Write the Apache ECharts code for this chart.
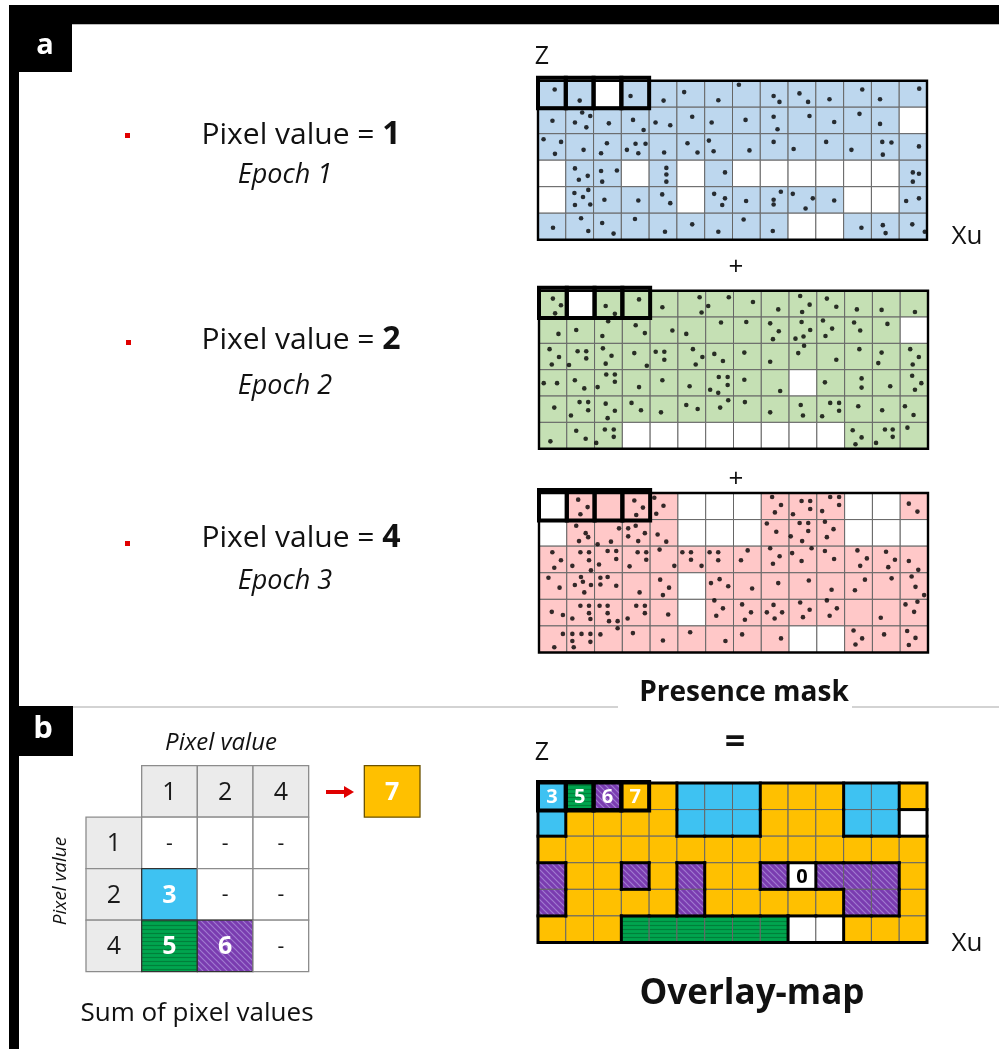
<!DOCTYPE html>
<html><head><meta charset="utf-8">
<script src="https://cdn.jsdelivr.net/npm/echarts@6/dist/echarts.min.js"></script>
<style>html,body{margin:0;padding:0;background:#fff}#c{width:999px;height:1049px}</style>
</head><body><div id="c"></div>
<script>
// ---------------- DATA ----------------
const NCOLS = 14, NROWS = 6;
const epochLabels = ['Epoch 1', 'Epoch 2', 'Epoch 3'];
const pixelValues = ['1', '2', '4'];

const blueMask = [
  [1,1,0,1,1,1,1,1,1,1,1,1,1,1],
  [1,1,1,1,1,1,1,1,1,1,1,1,1,0],
  [1,1,1,1,1,1,1,1,1,1,1,1,1,1],
  [0,1,1,0,1,0,1,0,0,0,0,0,0,1],
  [0,1,1,1,1,0,1,1,1,1,1,0,0,1],
  [1,1,1,1,1,1,1,1,1,0,0,1,1,1]
];
const greenMask = [
  [1,0,1,1,1,1,1,1,1,1,1,1,1,1],
  [1,1,1,1,1,1,1,1,1,1,1,1,1,0],
  [1,1,1,1,1,1,1,1,1,1,1,1,1,1],
  [1,1,1,1,1,1,1,1,1,0,1,1,1,1],
  [1,1,1,1,1,1,1,1,1,1,1,1,1,1],
  [1,1,1,0,0,0,0,0,0,0,0,1,1,1]
];
const pinkMask = [
  [0,1,1,1,1,0,0,0,1,1,1,0,0,1],
  [0,1,1,1,1,0,0,0,1,1,1,0,0,0],
  [1,1,1,1,1,1,1,1,1,1,1,1,1,1],
  [1,1,1,1,1,0,1,1,1,1,1,1,1,1],
  [1,1,1,1,1,0,1,1,1,1,1,1,1,1],
  [1,1,1,1,1,1,1,1,1,0,0,1,1,1]
];
const overlayValues = [
  [3,5,6,7,7,3,3,3,7,7,7,3,3,7],
  [3,7,7,7,7,3,3,3,7,7,7,3,3,0],
  [7,7,7,7,7,7,7,7,7,7,7,7,7,7],
  [6,7,7,6,7,6,7,7,6,0,6,6,6,7],
  [6,7,7,7,7,6,7,7,7,7,7,6,6,7],
  [7,7,7,5,5,5,5,5,5,0,0,7,7,7]
];
const overlayLabels = [[0,0,'3'],[1,0,'5'],[2,0,'6'],[3,0,'7'],[9,3,'0']];
const highlightCols = [0,1,2,3];

// dots: [column position, row position] in grid cell units
const blueDots = [
[0.60,0.33],[1.50,0.75],[3.33,0.58],[4.52,0.75],[5.26,0.43],[6.49,0.74],[7.23,0.15],[8.48,0.58],[8.69,0.80],[9.41,0.48],[9.72,0.80],[10.49,0.70],[11.67,0.33],[12.31,0.70],[13.72,0.30],
[0.52,1.51],[1.59,1.20],[1.88,1.33],[1.33,1.58],[1.74,1.76],[2.55,1.61],[3.42,1.48],[3.80,1.86],[4.23,1.58],[4.76,1.68],[5.55,1.36],[6.25,1.58],[7.47,1.48],[8.48,1.36],[8.62,1.83],[9.77,1.33],[10.66,1.56],[11.57,1.25],[12.31,1.63],
[0.20,2.21],[0.83,2.31],[0.61,2.76],[1.64,2.61],[2.48,2.36],[2.27,2.74],[3.20,2.61],[3.51,2.38],[3.87,2.38],[3.61,2.74],[4.54,2.71],[5.38,2.36],[5.74,2.71],[6.15,2.26],[6.32,2.66],[7.61,2.63],[8.48,2.31],[9.20,2.58],[10.37,2.31],[11.28,2.61],[12.39,2.31],[12.72,2.33],[12.41,2.79],[13.71,2.48],
[1.33,3.31],[1.79,3.59],[1.47,3.74],[2.27,3.41],[2.84,3.39],[2.31,3.81],[4.62,3.29],[4.62,3.54],[4.62,3.81],[6.73,3.46],[13.49,3.46],[13.71,3.51],[13.49,3.81],
[1.31,4.24],[1.81,4.12],[1.62,4.39],[1.33,4.69],[1.88,4.67],[2.39,4.49],[3.61,4.52],[4.47,4.29],[4.76,4.62],[6.34,4.27],[6.73,4.44],[6.63,4.69],[7.49,4.54],[8.74,4.19],[8.48,4.49],[8.48,4.67],[9.17,4.27],[9.89,4.44],[9.63,4.82],[10.66,4.52],[13.25,4.54],[13.71,4.44],
[0.54,5.55],[1.55,5.19],[1.81,5.67],[2.31,5.37],[2.72,5.77],[3.49,5.22],[4.57,5.70],[5.55,5.42],[6.49,5.70],[7.40,5.24],[8.45,5.67],[11.64,5.55],[12.41,5.45],[12.51,5.75],[13.47,5.42],[13.92,5.70]
];
const greenDots = [
[0.50,0.30],[0.79,0.55],[0.58,0.86],[2.40,0.58],[2.73,0.88],[3.60,0.33],[4.44,0.63],[5.78,0.25],[6.09,0.58],[5.85,0.83],[6.83,0.25],[7.70,0.43],[8.61,0.71],[9.40,0.20],[9.74,0.53],[9.47,0.81],[10.36,0.30],[10.70,0.61],[11.44,0.71],[12.33,0.73],[13.53,0.81],
[0.70,1.64],[1.34,1.49],[2.49,1.16],[2.28,1.72],[3.48,1.31],[3.81,1.61],[4.80,1.51],[5.30,1.64],[6.55,1.21],[7.46,1.19],[8.32,1.24],[8.63,1.54],[8.42,1.84],[9.45,1.19],[9.76,1.49],[9.52,1.74],[9.23,1.82],[10.22,1.13],[10.55,1.44],[10.31,1.72],[11.34,1.21],[11.56,1.51],[12.54,1.26],
[0.38,2.22],[0.72,2.52],[0.46,2.80],[1.39,2.30],[1.70,2.30],[1.70,2.57],[1.08,2.82],[2.30,2.19],[2.61,2.47],[2.40,2.77],[3.43,2.37],[3.88,2.85],[4.20,2.32],[4.51,2.32],[4.51,2.62],[5.54,2.22],[5.88,2.52],[5.64,2.80],[6.31,2.40],[6.62,2.67],[7.39,2.35],[8.32,2.70],[9.54,2.09],[9.33,2.37],[10.70,2.62],[11.53,2.22],[12.33,2.35],[12.21,2.75],[13.36,2.22],[13.67,2.52],[13.45,2.80],
[0.17,3.51],[0.65,3.51],[1.29,3.40],[1.63,3.71],[2.42,3.18],[2.73,3.18],[2.73,3.46],[2.11,3.66],[3.60,3.66],[4.44,3.40],[5.42,3.63],[6.47,3.28],[6.79,3.28],[6.79,3.58],[6.16,3.76],[6.45,3.88],[7.39,3.38],[8.68,3.81],[10.29,3.48],[11.61,3.33],[11.61,3.68],[12.64,3.63],[13.43,3.23],[13.76,3.51],[13.53,3.76],
[0.55,4.44],[1.46,4.23],[1.77,4.23],[1.77,4.54],[1.15,4.74],[2.40,4.29],[2.73,4.56],[2.47,4.84],[3.33,4.26],[3.67,4.54],[4.39,4.62],[5.30,4.34],[5.71,4.49],[6.81,4.16],[6.52,4.44],[7.41,4.23],[8.32,4.62],[9.42,4.34],[9.50,4.74],[10.48,4.26],[10.80,4.26],[10.80,4.56],[10.19,4.77],[11.49,4.39],[12.35,4.54],[13.17,4.39],[13.48,4.72],
[0.41,5.72],[1.34,5.32],[1.68,5.62],[2.06,5.78],[2.37,5.27],[2.69,5.27],[2.69,5.55],[11.29,5.30],[11.61,5.57],[11.39,5.83],[12.45,5.27],[12.73,5.27],[12.73,5.55],[12.13,5.78],[13.26,5.20]
];
const pinkDots = [
[1.41,0.25],[1.75,0.53],[1.49,0.80],[3.43,0.28],[3.74,0.55],[3.50,0.83],[4.15,0.18],[4.48,0.48],[4.22,0.78],[8.39,0.15],[8.71,0.45],[8.49,0.73],[9.45,0.30],[9.76,0.30],[9.76,0.60],[9.14,0.80],[10.48,0.15],[10.80,0.15],[10.80,0.45],[10.19,0.68],[13.31,0.40],[13.62,0.70],
[1.34,1.23],[1.68,1.51],[1.77,1.66],[1.44,1.81],[2.11,1.93],[2.59,1.83],[2.88,1.33],[3.21,1.33],[3.48,1.23],[3.81,1.51],[3.21,1.63],[3.57,1.81],[4.27,1.56],[4.58,1.83],[8.20,1.15],[8.54,1.46],[9.38,1.13],[9.69,1.13],[9.69,1.43],[9.06,1.63],[9.47,1.81],[10.29,1.08],[10.60,1.36],[10.36,1.66],
[0.48,2.23],[0.79,2.53],[0.55,2.81],[1.49,2.23],[1.80,2.23],[1.80,2.53],[1.20,2.74],[1.87,2.91],[2.16,2.69],[2.47,2.18],[2.78,2.18],[2.78,2.48],[3.55,2.23],[3.86,2.23],[3.86,2.51],[3.26,2.76],[4.34,2.13],[4.87,2.74],[5.16,2.23],[5.47,2.23],[5.47,2.51],[5.85,2.74],[6.14,2.23],[6.45,2.23],[6.45,2.53],[7.51,2.16],[7.27,2.53],[8.32,2.08],[8.66,2.38],[8.42,2.66],[9.11,2.26],[9.81,2.08],[9.45,2.56],[10.29,2.18],[10.62,2.48],[11.46,2.16],[11.80,2.46],[11.56,2.74],[12.49,2.21],[12.81,2.51],[12.57,2.79],[13.31,2.56],[13.65,2.89],
[0.34,3.19],[0.74,3.56],[1.51,3.16],[1.58,3.34],[1.87,3.46],[1.29,3.46],[1.63,3.74],[2.21,3.19],[2.47,3.16],[2.21,3.44],[2.78,3.49],[3.62,3.74],[4.36,3.26],[4.68,3.56],[4.46,3.84],[6.19,3.39],[6.50,3.24],[6.81,3.51],[7.67,3.59],[8.61,3.39],[9.71,3.29],[10.53,3.64],[11.73,3.26],[11.37,3.66],[12.69,3.21],[13.41,3.14],[13.55,3.53],[13.86,3.84],
[0.46,4.47],[0.86,4.59],[1.49,4.24],[1.80,4.24],[1.80,4.52],[1.85,4.74],[1.20,4.72],[2.18,4.24],[2.47,4.24],[2.47,4.52],[2.52,4.82],[2.83,4.82],[3.19,4.72],[3.50,4.24],[3.81,4.24],[3.81,4.52],[4.65,4.57],[6.31,4.04],[6.62,4.34],[6.38,4.62],[7.31,4.19],[7.63,4.49],[7.41,4.77],[8.44,4.21],[8.20,4.49],[8.75,4.49],[8.48,4.72],[9.40,4.12],[9.74,4.39],[9.50,4.67],[10.36,4.04],[10.72,4.34],[10.46,4.62],[12.30,4.69],[13.19,4.19],[13.62,4.09],[13.50,4.47],
[0.86,5.30],[0.55,5.80],[1.20,5.30],[1.53,5.30],[1.85,5.30],[1.20,5.57],[1.25,5.80],[1.85,5.60],[2.21,5.32],[2.83,5.09],[3.38,5.27],[4.46,5.55],[5.44,5.24],[6.71,5.57],[7.31,5.32],[8.71,5.47],[11.32,5.17],[11.63,5.47],[11.39,5.70],[12.42,5.32],[13.25,5.19],[13.55,5.45],[13.31,5.72]
];

const tableColHeaders = ['1','2','4'];
const tableRowHeaders = ['1','2','4'];
const tableSums = [['-','-','-'],['3','-','-'],['5','6','-']];
const resultValue = '7';

// ---------------- STYLE ----------------
const FONT = '"Open Sans", "Noto Sans", sans-serif';
const C_BLUE = '#bdd7ee', C_GREEN = '#c5e0b4', C_PINK = '#ffc8c8';
const C_CYAN = '#3ec2f2', C_ORANGE = '#ffc000';

function makePattern(bg, fg, kind) {
  const s = kind === 'h' ? 4 : 6;
  const cv = document.createElement('canvas');
  cv.width = s; cv.height = s;
  const ctx = cv.getContext('2d');
  ctx.fillStyle = bg; ctx.fillRect(0, 0, s, s);
  ctx.strokeStyle = fg; ctx.lineWidth = 1.2;
  ctx.beginPath();
  if (kind === 'h') { ctx.moveTo(0, 1.5); ctx.lineTo(s, 1.5); }
  else { ctx.moveTo(-1, -1); ctx.lineTo(s + 1, s + 1); ctx.moveTo(-1, s - 1); ctx.lineTo(1, s + 1); ctx.moveTo(s - 1, -1); ctx.lineTo(s + 1, 1); }
  ctx.stroke();
  return { image: cv, repeat: 'repeat' };
}
const P_GREEN = makePattern('#00a54f', '#00803a', 'h');
const P_PURPLE = makePattern('#7a3cb0', '#a07ad0', 'd');
const sumFill = { '0': '#ffffff', '3': C_CYAN, '5': P_GREEN, '6': P_PURPLE, '7': C_ORANGE, '-': '#ffffff' };

const mapGrids = [
  { left: 538, top: 80.7, width: 389, height: 159 },
  { left: 539, top: 290.7, width: 389, height: 158 },
  { left: 539, top: 493, width: 389, height: 159.5 },
  { left: 538, top: 783, width: 389, height: 159.5 }
];
const tableGrid = { left: 86, top: 765.7, width: 334, height: 206 };

const grids = mapGrids.concat([tableGrid]).map(g => Object.assign({ show: false, containLabel: false }, g));
const xAxes = [], yAxes = [];
for (let i = 0; i < 4; i++) {
  xAxes.push({ gridIndex: i, type: 'value', min: 0, max: NCOLS, show: false });
  yAxes.push({ gridIndex: i, type: 'value', min: 0, max: NROWS, inverse: true, show: false });
}
xAxes.push({ gridIndex: 4, type: 'value', min: 0, max: 6, show: false });
yAxes.push({ gridIndex: 4, type: 'value', min: 0, max: 4, inverse: true, show: false });

function cellRect(api, c, r) {
  const a = api.coord([c, r]), b = api.coord([c + 1, r + 1]);
  return { x: a[0], y: a[1], width: b[0] - a[0], height: b[1] - a[1] };
}
function flatten(mask) {
  const d = [];
  mask.forEach((row, r) => row.forEach((v, c) => d.push([c, r, v])));
  return d;
}

const series = [];
function addMask(gi, mask, color, dots) {
  series.push({
    type: 'custom', xAxisIndex: gi, yAxisIndex: gi, silent: true, z: 1,
    data: flatten(mask),
    renderItem: (p, api) => ({
      type: 'rect', shape: cellRect(api, api.value(0), api.value(1)),
      style: { fill: api.value(2) ? color : '#ffffff', stroke: '#666', lineWidth: 1 }
    })
  });
  series.push({
    type: 'scatter', xAxisIndex: gi, yAxisIndex: gi, silent: true, z: 3,
    symbol: 'circle', symbolSize: 4.6, itemStyle: { color: '#000' }, data: dots
  });
  series.push({
    type: 'custom', xAxisIndex: gi, yAxisIndex: gi, silent: true, z: 4,
    data: [[0, 0]],
    renderItem: (p, api) => {
      const a = api.coord([0, 0]), b = api.coord([NCOLS, NROWS]);
      return { type: 'rect', shape: { x: a[0], y: a[1], width: b[0] - a[0], height: b[1] - a[1] },
        style: { fill: 'none', stroke: '#000', lineWidth: 2.4 } };
    }
  });
  series.push({
    type: 'custom', xAxisIndex: gi, yAxisIndex: gi, silent: true, z: 5,
    data: highlightCols.map(c => [c, 0]),
    renderItem: (p, api) => {
      const s = cellRect(api, api.value(0), 0);
      return { type: 'rect', shape: { x: s.x, y: s.y - 3, width: s.width, height: s.height + 4 },
        style: { fill: 'none', stroke: '#000', lineWidth: 4 } };
    }
  });
}
addMask(0, blueMask, C_BLUE, blueDots);
addMask(1, greenMask, C_GREEN, greenDots);
addMask(2, pinkMask, C_PINK, pinkDots);

// overlay map
series.push({
  type: 'custom', xAxisIndex: 3, yAxisIndex: 3, silent: true, z: 1,
  data: flatten(overlayValues),
  renderItem: (p, api) => ({
    type: 'rect', shape: cellRect(api, api.value(0), api.value(1)),
    style: { fill: sumFill[String(api.value(2))], stroke: '#666', lineWidth: 1 }
  })
});
series.push({
  type: 'custom', xAxisIndex: 3, yAxisIndex: 3, silent: true, z: 3,
  data: flatten(overlayValues),
  renderItem: (p, api) => {
    const c = api.value(0), r = api.value(1), v = api.value(2);
    const s = cellRect(api, c, r);
    const kids = [];
    const st = { stroke: '#000', lineWidth: 3, lineCap: 'square' };
    if (c < NCOLS - 1 && overlayValues[r][c + 1] !== v)
      kids.push({ type: 'line', shape: { x1: s.x + s.width, y1: s.y, x2: s.x + s.width, y2: s.y + s.height }, style: st });
    if (r < NROWS - 1 && overlayValues[r + 1][c] !== v)
      kids.push({ type: 'line', shape: { x1: s.x, y1: s.y + s.height, x2: s.x + s.width, y2: s.y + s.height }, style: st });
    return { type: 'group', children: kids };
  }
});
series.push({
  type: 'custom', xAxisIndex: 3, yAxisIndex: 3, silent: true, z: 4,
  data: [[0, 0]],
  renderItem: (p, api) => {
    const a = api.coord([0, 0]), b = api.coord([NCOLS, NROWS]);
    return { type: 'rect', shape: { x: a[0], y: a[1], width: b[0] - a[0], height: b[1] - a[1] },
      style: { fill: 'none', stroke: '#000', lineWidth: 3 } };
  }
});
series.push({
  type: 'custom', xAxisIndex: 3, yAxisIndex: 3, silent: true, z: 5,
  data: highlightCols.map(c => [c, 0]),
  renderItem: (p, api) => {
    const s = cellRect(api, api.value(0), 0);
    return { type: 'rect', shape: { x: s.x, y: s.y - 1, width: s.width, height: s.height + 2 },
      style: { fill: 'none', stroke: '#000', lineWidth: 4 } };
  }
});
series.push({
  type: 'custom', xAxisIndex: 3, yAxisIndex: 3, silent: true, z: 6,
  data: overlayLabels.map(l => [l[0], l[1]]),
  renderItem: (p, api) => {
    const l = overlayLabels[p.dataIndex];
    const s = cellRect(api, l[0], l[1]);
    return { type: 'text', style: { text: l[2], x: s.x + s.width / 2, y: s.y + s.height / 2 + 1,
      align: 'center', verticalAlign: 'middle', font: 'bold 20px ' + FONT, fill: l[2] === '0' ? '#000' : '#fff' } };
  }
});

// sum table
const tableCells = [];
tableColHeaders.forEach((h, i) => tableCells.push([i + 1, 0, h, 'head']));
tableRowHeaders.forEach((h, i) => tableCells.push([0, i + 1, h, 'head']));
tableSums.forEach((row, i) => row.forEach((v, j) => tableCells.push([j + 1, i + 1, v, 'sum'])));
tableCells.push([5, 0, resultValue, 'result']);
series.push({
  type: 'custom', xAxisIndex: 4, yAxisIndex: 4, silent: true, z: 2,
  data: tableCells.map(t => [t[0], t[1]]),
  renderItem: (p, api) => {
    const t = tableCells[p.dataIndex];
    const s = cellRect(api, t[0], t[1]);
    let fill = '#ebebeb', txtFill = '#1a1a1a', font = '25px ' + FONT, stroke = '#8c8c8c';
    if (t[3] !== 'head') {
      fill = sumFill[t[2]];
      if (t[2] === '-') { font = '21px ' + FONT; }
      else { txtFill = '#fff'; font = 'bold 25px ' + FONT; }
    }
    if (t[3] === 'result') stroke = '#6b5200';
    if (t[3] === 'sum' && t[2] !== '-') stroke = '#333';
    return { type: 'group', children: [
      { type: 'rect', shape: s, style: { fill, stroke, lineWidth: 1.3 } },
      { type: 'text', style: { text: t[2], x: s.x + s.width / 2, y: s.y + s.height / 2 + 1,
        align: 'center', verticalAlign: 'middle', font, fill: txtFill } }
    ] };
  }
});

// ---------------- GRAPHICS (frame & text) ----------------
function txt(text, x, y, font, fill, rotation) {
  return { type: 'text', z: 100, x, y, rotation: rotation || 0,
    style: { text, x: 0, y: 0, font, fill: fill || '#111', textAlign: 'center', textVerticalAlign: 'middle' } };
}
const graphic = [
  { type: 'rect', z: 90, shape: { x: 9, y: 5, width: 990, height: 19 }, style: { fill: '#000' } },
  { type: 'line', z: 90, shape: { x1: 19, y1: 24.5, x2: 999, y2: 24.5 }, style: { stroke: '#bbb', lineWidth: 1 } },
  { type: 'rect', z: 90, shape: { x: 9, y: 5, width: 10, height: 1044 }, style: { fill: '#000' } },
  { type: 'rect', z: 90, shape: { x: 9, y: 5, width: 63, height: 67 }, style: { fill: '#000' } },
  { type: 'rect', z: 90, shape: { x: 9, y: 706, width: 64, height: 50 }, style: { fill: '#000' } },
  { type: 'line', z: 90, shape: { x1: 73, y1: 707, x2: 618, y2: 707 }, style: { stroke: '#a8a8a8', lineWidth: 1.2 } },
  { type: 'line', z: 90, shape: { x1: 852, y1: 707, x2: 999, y2: 707 }, style: { stroke: '#a8a8a8', lineWidth: 1.2 } },
  txt('a', 45, 46, 'bold 29px ' + FONT, '#fff'),
  txt('b', 43, 729, 'bold 31px ' + FONT, '#fff'),
  { type: 'rect', z: 90, shape: { x: 125, y: 133, width: 5, height: 5 }, style: { fill: '#e00000' } },
  { type: 'rect', z: 90, shape: { x: 126, y: 340, width: 5, height: 5 }, style: { fill: '#e00000' } },
  { type: 'rect', z: 90, shape: { x: 125, y: 541, width: 5, height: 5 }, style: { fill: '#e00000' } },
  txt('Z', 542, 57, '25px ' + FONT),
  txt('Xu', 967, 237, '26px ' + FONT),
  txt('+', 736, 268, '26px ' + FONT),
  txt('+', 736, 480, '26px ' + FONT),
  txt('Presence mask', 744, 693, 'bold 28px ' + FONT),
  txt('=', 735, 743, 'bold 36px ' + FONT),
  txt('Z', 542, 753, '25px ' + FONT),
  txt('Xu', 967, 944, '26px ' + FONT),
  txt('Overlay-map', 752, 994, 'bold 35px ' + FONT),
  txt('Pixel value', 221, 743, 'italic 24px ' + FONT),
  txt('Pixel value', 61, 881, 'italic 19px ' + FONT, '#111', Math.PI / 2),
  txt('Sum of pixel values', 197, 1014, '26px ' + FONT),
  { type: 'line', z: 90, shape: { x1: 326, y1: 792, x2: 346, y2: 792 }, style: { stroke: '#e00000', lineWidth: 4 } },
  { type: 'polygon', z: 90, shape: { points: [[344, 786], [354, 792], [344, 798]] }, style: { fill: '#e00000' } }
];
const pvY = [135, 340, 538], epY = [175, 386, 581];
pixelValues.forEach((v, i) => {
  graphic.push({ type: 'text', z: 100, x: 301, y: pvY[i], style: { text: '{n|Pixel value = }{b|' + v + '}', x: 0, y: 0,
    textAlign: 'center', textVerticalAlign: 'middle',
    rich: { n: { font: '30px ' + FONT, fill: '#111' }, b: { font: 'bold 32px ' + FONT, fill: '#111' } } } });
  graphic.push(txt(epochLabels[i], 285, epY[i], 'italic 27px ' + FONT));
});

const chart = echarts.init(document.getElementById('c'), null, { renderer: 'canvas' });
chart.setOption({
  animation: false,
  backgroundColor: '#fff',
  grid: grids, xAxis: xAxes, yAxis: yAxes,
  series, graphic
});
</script></body></html>
